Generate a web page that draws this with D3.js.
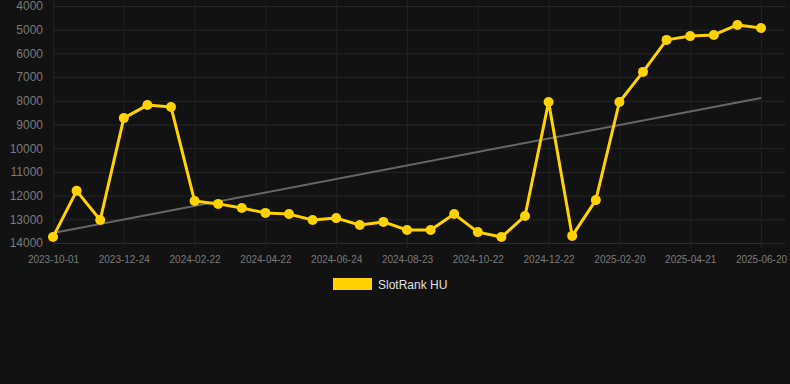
<!DOCTYPE html>
<html><head><meta charset="utf-8">
<script src="https://cdn.jsdelivr.net/npm/d3@7"></script>
<style>html,body{margin:0;padding:0;background:#121212;}svg{display:block;}</style>
</head><body>
<script>
const dates = ["2023-10-01","2023-10-29","2023-11-26","2023-12-24","2024-01-13","2024-02-02","2024-02-22","2024-03-13","2024-04-02","2024-04-22","2024-05-13","2024-06-03","2024-06-24","2024-07-14","2024-08-03","2024-08-23","2024-09-12","2024-10-02","2024-10-22","2024-11-11","2024-12-02","2024-12-22","2025-01-11","2025-01-31","2025-02-20","2025-03-12","2025-04-01","2025-04-21","2025-05-11","2025-05-31","2025-06-20"];
const ranks = [13750,11800,13030,8730,8180,8260,12230,12350,12520,12730,12780,13030,12950,13240,13110,13450,13450,12780,13540,13750,12860,8050,13700,12190,8050,6780,5430,5270,5220,4800,4930];
const trend = [13580,7880];
const yTicks = [4000,5000,6000,7000,8000,9000,10000,11000,12000,13000,14000];
const xTickLabels = ["2023-10-01","2023-12-24","2024-02-22","2024-04-22","2024-06-24","2024-08-23","2024-10-22","2024-12-22","2025-02-20","2025-04-21","2025-06-20"];
const seriesName = "SlotRank HU";

const W=790,H=384;
const L=53,R=761,T=6,B=243;
const svg=d3.select("body").append("svg").attr("width",W).attr("height",H).style("background","#121212");
const x=d3.scalePoint().domain(dates).range([L,R]);
const y=d3.scaleLinear().domain([4000,14000]).range([T,B]);

const yAxis=d3.axisLeft(y).tickValues(yTicks).tickSize(-(785-L)).tickPadding(10).tickFormat(d3.format("d"));
const gy=svg.append("g").attr("transform",`translate(${L},0)`).call(yAxis);
gy.select(".domain").remove();
gy.selectAll("line").attr("stroke","#262626").attr("stroke-width",1);
gy.selectAll("text").attr("fill","#7a7a7a").style("font-family","Arial, 'Liberation Sans', sans-serif").style("font-size","12px");

const xAxis=d3.axisBottom(x).tickValues(xTickLabels).tickSize(-B).tickPadding(0).tickSizeOuter(0);
const gx=svg.append("g").attr("transform",`translate(0,${B})`).call(xAxis);
gx.select(".domain").attr("stroke","#2e2e2e");
gx.selectAll(".tick line").attr("stroke","#202020").attr("y2",5).attr("y1",-B);
gx.selectAll("text").attr("fill","#7a7a7a").attr("dy","0").attr("y",20).style("font-family","Arial, 'Liberation Sans', sans-serif").style("font-size","10px");

svg.append("line").attr("x1",x(dates[0])).attr("x2",x(dates[dates.length-1]))
  .attr("y1",y(trend[0])).attr("y2",y(trend[1]))
  .attr("stroke","#666").attr("stroke-width",2);

const line=d3.line().x((d,i)=>x(dates[i])).y(d=>y(d));
svg.append("path").datum(ranks).attr("d",line).attr("fill","none").attr("stroke","#FFD200").attr("stroke-width",3).attr("stroke-linejoin","round");
svg.selectAll("circle.pt").data(ranks).enter().append("circle").attr("class","pt")
  .attr("cx",(d,i)=>x(dates[i])).attr("cy",d=>y(d)).attr("r",5).attr("fill","#FFD200");

const lg=svg.append("g");
lg.append("rect").attr("x",333).attr("y",278).attr("width",39).attr("height",12).attr("fill","#FFD200");
lg.append("text").attr("x",378).attr("y",289).text(seriesName).attr("fill","#e0e0e0")
  .style("font-family","Arial, 'Liberation Sans', sans-serif").style("font-size","12px");
</script>
</body></html>
